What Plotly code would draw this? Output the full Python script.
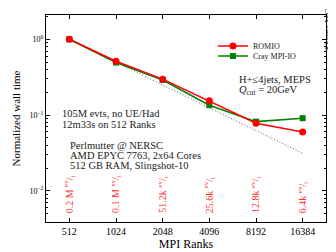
import plotly.graph_objects as go
import math

ranks = [512, 1024, 2048, 4096, 8192, 16384]
rank_labels = ["512", "1024", "2048", "4096", "8192", "16384"]
romio = [1.0, 0.513, 0.298, 0.154, 0.078, 0.060]
cray = [1.0, 0.493, 0.290, 0.135, 0.082, 0.091]
ideal = [1.0, 0.5, 0.25, 0.125, 0.0625, 0.03125]
rate_labels = ["0.2 M", "0.1 M", "51.2k", "25.6k", "12.8k", "6.4k"]

FONT = "Liberation Serif"

W0, W1, H0, H1 = 38, 318, 7, 214
def px(xp):
    return (xp - W0) / (W1 - W0)
def py(yp):
    return (H1 - yp) / (H1 - H0)

fig = go.Figure()
fig.add_trace(go.Scatter(x=ranks, y=ideal, mode="lines",
                         line=dict(color="#606060", width=1, dash="1px,2px"),
                         showlegend=False, hoverinfo="skip"))
fig.add_trace(go.Scatter(x=ranks, y=cray, mode="lines+markers", name="Cray MPI-IO",
                         legend="legend2",
                         line=dict(color="#008000", width=1.5),
                         marker=dict(symbol="square", size=6, color="#008000")))
fig.add_trace(go.Scatter(x=ranks, y=romio, mode="lines+markers", name="ROMIO",
                         legend="legend",
                         line=dict(color="#ff0000", width=1.5),
                         marker=dict(symbol="circle", size=7, color="#ff0000")))

minor_vals = [k * 10.0 ** n for n in range(-3, 1) for k in range(2, 10)]

fig.update_xaxes(type="log",
                 range=[math.log10(512) - 0.5 * math.log10(2), math.log10(16384) + 0.5 * math.log10(2)],
                 tickvals=ranks, ticktext=rank_labels,
                 ticks="inside", ticklen=4, tickcolor="black", mirror="allticks",
                 showline=True, linecolor="black", linewidth=1, showgrid=False, zeroline=False,
                 tickfont=dict(family=FONT, size=10, color="black"),
                 title=dict(text="MPI Ranks", font=dict(family=FONT, size=12, color="black"), standoff=2))
fig.update_yaxes(type="log", range=[-2.41, 0.32],
                 tickvals=[1, 0.1, 0.01],
                 ticktext=["10<sup>0</sup>", "10<sup>−1</sup>", "10<sup>−2</sup>"],
                 ticks="inside", ticklen=4, tickcolor="black", mirror="allticks",
                 minor=dict(tickvals=minor_vals, ticks="inside", ticklen=2, tickcolor="black", showgrid=False),
                 showline=True, linecolor="black", linewidth=1, showgrid=False, zeroline=False,
                 tickfont=dict(family=FONT, size=8, color="black"),
                 title=dict(text="Normalized wall time", font=dict(family=FONT, size=11, color="black"), standoff=6))

ann = []
for xv, lab in zip(ranks, rate_labels):
    ann.append(dict(x=math.log10(xv), xref="x", y=py(207), yref="paper",
                    text=lab + " <sup>ev</sup>/<sub>t</sub>", textangle=-90, showarrow=False,
                    xanchor="center", yanchor="bottom",
                    font=dict(family=FONT, size=10, color="rgba(255,0,0,0.85)")))

def txt(x, y, s, size=10.5):
    return dict(x=x, y=y, xref="paper", yref="paper", text=s, showarrow=False,
                xanchor="left", yanchor="middle", align="left",
                font=dict(family=FONT, size=size, color="#222222"))

ann.append(txt(px(52), py(105), "105M evts, no UE/Had"))
ann.append(txt(px(52), py(116), "12m33s on 512 Ranks"))
ann.append(txt(px(60), py(137), "Perlmutter @ NERSC"))
ann.append(txt(px(60), py(147), "AMD EPYC 7763, 2x64 Cores"))
ann.append(txt(px(60), py(157), "512 GB RAM, Slingshot-10"))
ann.append(txt(px(229), py(71), "H+≤4jets, MEPS"))
ann.append(txt(px(229), py(82), "<i>Q</i><sub>cut</sub> = 20GeV"))
ann.append(dict(x=px(320), y=py(22), xref="paper", yref="paper", text="Sherpa MC",
                textangle=-90, showarrow=False, xanchor="center", yanchor="middle",
                font=dict(family=FONT, size=9, color="#222222")))

leg_common = dict(xanchor="left", yanchor="middle", bgcolor="rgba(0,0,0,0)",
                  font=dict(family=FONT, size=8, color="#222222"),
                  itemwidth=30, borderwidth=0)

fig.update_layout(
    width=336, height=252,
    margin=dict(l=W0, r=336 - W1, t=H0, b=252 - H1),
    plot_bgcolor="white", paper_bgcolor="white",
    annotations=ann,
    legend=dict(x=px(205), y=py(38), **leg_common),
    legend2=dict(x=px(205), y=py(48), **leg_common),
    showlegend=True,
)

fig.write_html("out.html")
